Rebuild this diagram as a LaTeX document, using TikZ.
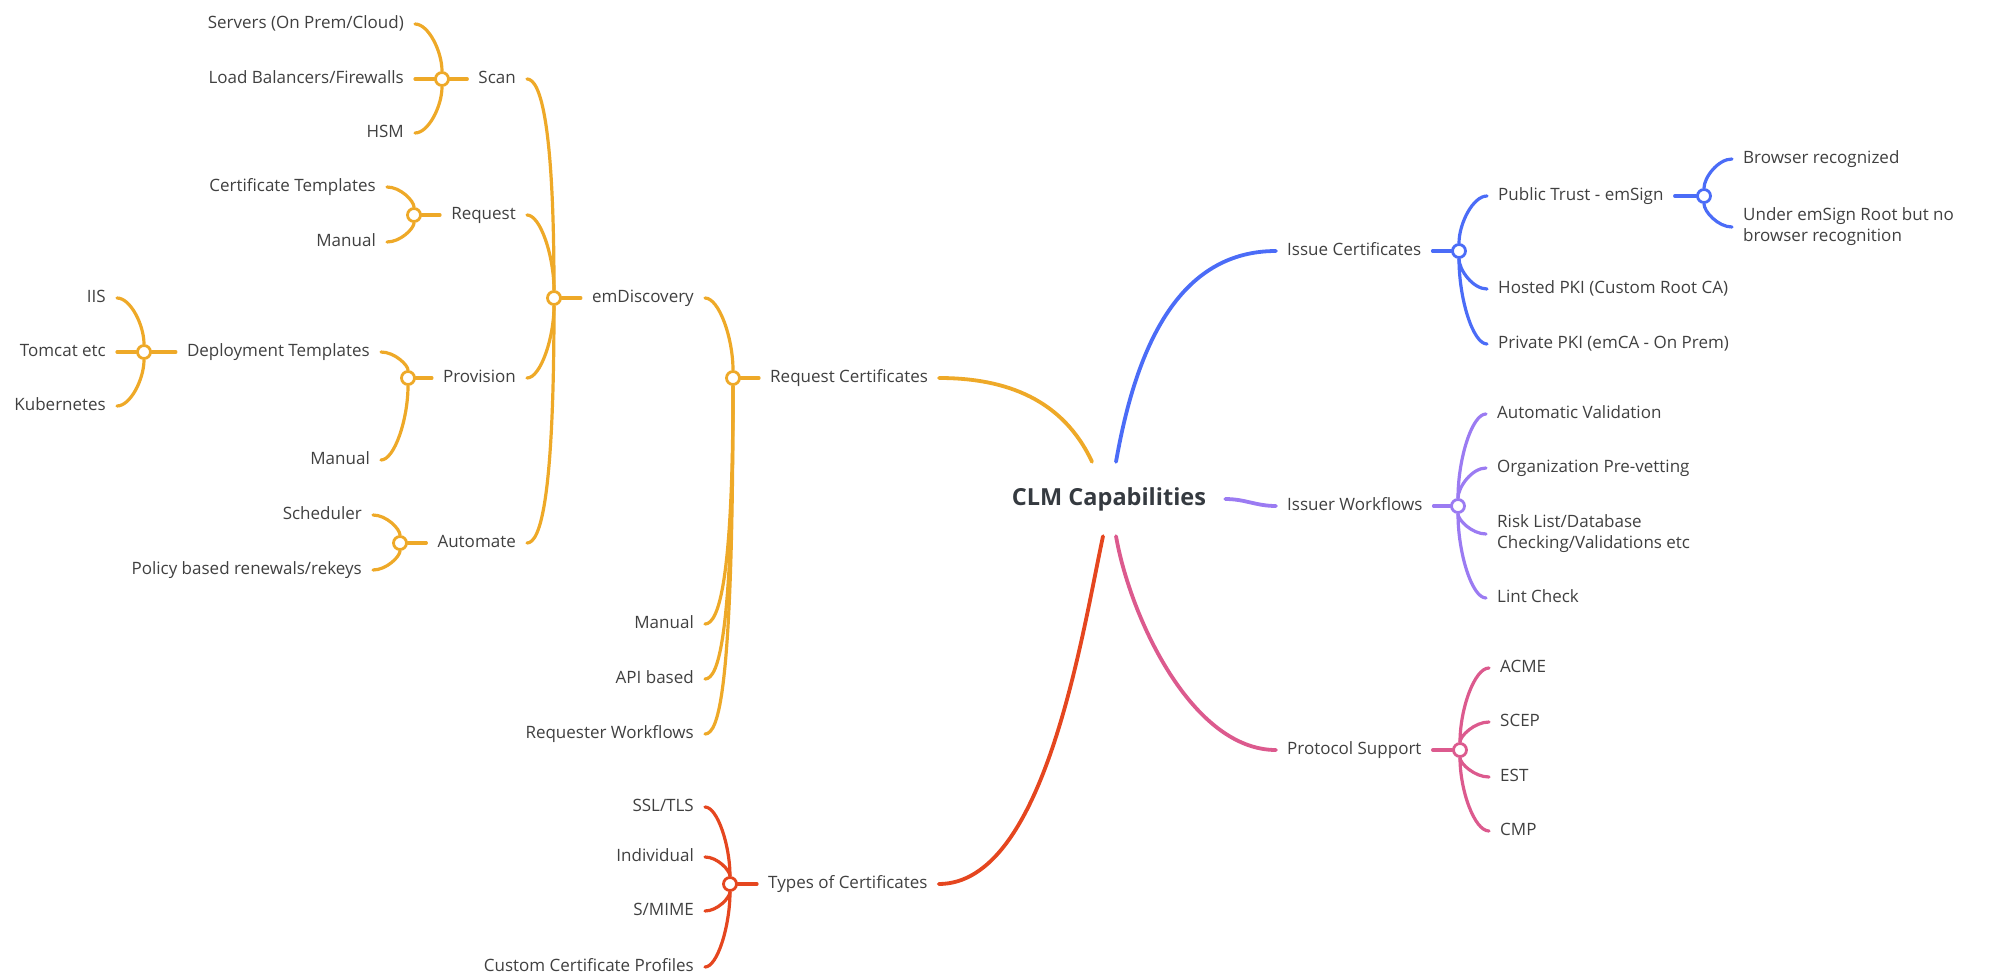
\documentclass[tikz,border=0pt]{standalone}
\usepackage{fontspec}
\setmainfont{Open Sans}
\usetikzlibrary{calc}
\definecolor{clmorange}{HTML}{EEA928}
\definecolor{clmblue}{HTML}{4B6CF7}
\definecolor{clmpurple}{HTML}{9B7BF2}
\definecolor{clmpink}{HTML}{DC5A8E}
\definecolor{clmred}{HTML}{E5461F}
\definecolor{clmtext}{HTML}{404040}
\definecolor{clmtitle}{HTML}{353A40}
\tikzstyle{leaf} = [font=\fontsize{17}{21}\selectfont, text=clmtext, inner xsep=11pt, inner ysep=1pt, text height=13pt, text depth=4.5pt]
\tikzstyle{lleaf} = [leaf, anchor=east]
\tikzstyle{rleaf} = [leaf, anchor=west]
\tikzstyle{twoline} = [align=left, text height={}, text depth={}]
\tikzstyle{root} = [font=\bfseries\fontsize{23.5}{28}\selectfont, text=clmtitle, inner xsep=19pt, inner ysep=26pt, text height=17pt, text depth=5pt]
\tikzstyle{hub} = [circle, draw, fill=white, line width=2.8pt, minimum size=13pt, inner sep=0pt]
\tikzstyle{twig} = [line width=3.2pt, line cap=round]
\tikzstyle{bough} = [line width=3.8pt, line cap=round]
\tikzstyle{limb} = [to path={let \p1=(\tikztostart), \p2=(\tikztotarget), \n1={max(-45,min(45,0.5*(\y2-\y1)))} in .. controls (\x1,{\y2-\n1}) and ({0.5*(\x1+\x2)},\y2) .. (\tikztotarget) \tikztonodes}]

\begin{document}
\begin{tikzpicture}[x=1pt, y=1pt]
\useasboundingbox (0,0) rectangle (1998,-980);

\node (root) [root] at (1109,-499) {CLM Capabilities};

\node (servers) [lleaf] at (415,-24) {Servers (On Prem/Cloud)};
\node (lb) [lleaf] at (415,-79) {Load Balancers/Firewalls};
\node (hsm) [lleaf] at (415,-133) {HSM};
\node (scanJ) [hub, draw=clmorange] at (442,-79) {};
\node (scan) [lleaf] at (527,-79) {Scan};
\node (certT) [lleaf] at (387,-187) {Certificate Templates};
\node (manR) [lleaf] at (387,-242) {Manual};
\node (reqJ) [hub, draw=clmorange] at (414,-215) {};
\node (request) [lleaf] at (527,-215) {Request};
\node (iis) [lleaf] at (117,-298) {IIS};
\node (tomcat) [lleaf] at (117,-352) {Tomcat etc};
\node (kube) [lleaf] at (117,-406) {Kubernetes};
\node (depJ) [hub, draw=clmorange] at (144,-352) {};
\node (deploy) [lleaf] at (381,-352) {Deployment Templates};
\node (manP) [lleaf] at (381,-460) {Manual};
\node (provJ) [hub, draw=clmorange] at (408,-378) {};
\node (prov) [lleaf] at (527,-378) {Provision};
\node (sched) [lleaf] at (373,-515) {Scheduler};
\node (policy) [lleaf] at (373,-570) {Policy based renewals/rekeys};
\node (autoJ) [hub, draw=clmorange] at (400,-543) {};
\node (auto) [lleaf] at (527,-543) {Automate};
\node (discJ) [hub, draw=clmorange] at (554,-298) {};
\node (disc) [lleaf] at (705,-298) {emDiscovery};
\node (manM) [lleaf] at (705,-624) {Manual};
\node (api) [lleaf] at (705,-679) {API based};
\node (reqwf) [lleaf] at (705,-734) {Requester Workflows};
\node (rcJ) [hub, draw=clmorange] at (733,-378) {};
\node (rc) [rleaf] at (759,-378) {Request Certificates};

\node (ssl) [lleaf] at (705,-807) {SSL/TLS};
\node (indiv) [lleaf] at (705,-857) {Individual};
\node (smime) [lleaf] at (705,-911) {S/MIME};
\node (custom) [lleaf] at (705,-967) {Custom Certificate Profiles};
\node (typesJ) [hub, draw=clmred] at (730,-884) {};
\node (types) [rleaf] at (757,-884) {Types of Certificates};

\node (issue) [rleaf] at (1276,-251) {Issue Certificates};
\node (issueJ) [hub, draw=clmblue] at (1459,-251) {};
\node (pub) [rleaf] at (1487,-196) {Public Trust - emSign};
\node (pubJ) [hub, draw=clmblue] at (1704,-196) {};
\node (browser) [rleaf] at (1732,-159) {Browser recognized};
\node (under) [rleaf, twoline] at (1732,-227) {Under emSign Root but no\\browser recognition};
\node (hosted) [rleaf] at (1487,-289) {Hosted PKI (Custom Root CA)};
\node (private) [rleaf] at (1487,-344) {Private PKI (emCA - On Prem)};

\node (iw) [rleaf] at (1276,-506) {Issuer Workflows};
\node (iwJ) [hub, draw=clmpurple] at (1458,-506) {};
\node (autoval) [rleaf] at (1486,-414) {Automatic Validation};
\node (orgpre) [rleaf] at (1486,-468) {Organization Pre-vetting};
\node (risk) [rleaf, twoline] at (1486,-534) {Risk List/Database\\Checking/Validations etc};
\node (lint) [rleaf] at (1486,-598) {Lint Check};

\node (proto) [rleaf] at (1276,-750) {Protocol Support};
\node (protoJ) [hub, draw=clmpink] at (1460,-750) {};
\node (acme) [rleaf] at (1489,-668) {ACME};
\node (scep) [rleaf] at (1489,-722) {SCEP};
\node (est) [rleaf] at (1489,-777) {EST};
\node (cmp) [rleaf] at (1489,-831) {CMP};

\draw [bough, clmorange] ([xshift=-17pt]root.north) to[out=115,in=0] (rc.east);
\draw [bough, clmblue] ([xshift=7pt]root.north) to[out=80,in=180] (issue.west);
\draw [bough, clmpurple] (root.east) to[out=0,in=180] (iw.west);
\draw [bough, clmpink] ([xshift=7pt]root.south) to[out=-80,in=180,looseness=0.8] (proto.west);
\draw [bough, clmred] ([xshift=-6pt]root.south) to[out=-102,in=0,looseness=0.7] (types.east);

\draw [twig, clmorange] (rc.west) -- (rcJ);
\draw [twig, clmorange] (rcJ) to[limb] (disc.east);
\draw [twig, clmorange] (rcJ) to[limb] (manM.east);
\draw [twig, clmorange] (rcJ) to[limb] (api.east);
\draw [twig, clmorange] (rcJ) to[limb] (reqwf.east);
\draw [twig, clmorange] (disc.west) -- (discJ);
\draw [twig, clmorange] (discJ) to[limb] (scan.east);
\draw [twig, clmorange] (discJ) to[limb] (request.east);
\draw [twig, clmorange] (discJ) to[limb] (prov.east);
\draw [twig, clmorange] (discJ) to[limb] (auto.east);
\draw [twig, clmorange] (scan.west) -- (scanJ);
\draw [twig, clmorange] (scanJ) to[limb] (servers.east);
\draw [twig, clmorange] (scanJ) -- (lb.east);
\draw [twig, clmorange] (scanJ) to[limb] (hsm.east);
\draw [twig, clmorange] (request.west) -- (reqJ);
\draw [twig, clmorange] (reqJ) to[limb] (certT.east);
\draw [twig, clmorange] (reqJ) to[limb] (manR.east);
\draw [twig, clmorange] (prov.west) -- (provJ);
\draw [twig, clmorange] (provJ) to[limb] (deploy.east);
\draw [twig, clmorange] (provJ) to[limb] (manP.east);
\draw [twig, clmorange] (deploy.west) -- (depJ);
\draw [twig, clmorange] (depJ) to[limb] (iis.east);
\draw [twig, clmorange] (depJ) -- (tomcat.east);
\draw [twig, clmorange] (depJ) to[limb] (kube.east);
\draw [twig, clmorange] (auto.west) -- (autoJ);
\draw [twig, clmorange] (autoJ) to[limb] (sched.east);
\draw [twig, clmorange] (autoJ) to[limb] (policy.east);

\draw [twig, clmred] (types.west) -- (typesJ);
\draw [twig, clmred] (typesJ) to[limb] (ssl.east);
\draw [twig, clmred] (typesJ) to[limb] (indiv.east);
\draw [twig, clmred] (typesJ) to[limb] (smime.east);
\draw [twig, clmred] (typesJ) to[limb] (custom.east);

\draw [twig, clmblue] (issue.east) -- (issueJ);
\draw [twig, clmblue] (issueJ) to[limb] (pub.west);
\draw [twig, clmblue] (issueJ) to[limb] (hosted.west);
\draw [twig, clmblue] (issueJ) to[limb] (private.west);
\draw [twig, clmblue] (pub.east) -- (pubJ);
\draw [twig, clmblue] (pubJ) to[limb] (browser.west);
\draw [twig, clmblue] (pubJ) to[limb] (under.west);

\draw [twig, clmpurple] (iw.east) -- (iwJ);
\draw [twig, clmpurple] (iwJ) to[limb] (autoval.west);
\draw [twig, clmpurple] (iwJ) to[limb] (orgpre.west);
\draw [twig, clmpurple] (iwJ) to[limb] (risk.west);
\draw [twig, clmpurple] (iwJ) to[limb] (lint.west);

\draw [twig, clmpink] (proto.east) -- (protoJ);
\draw [twig, clmpink] (protoJ) to[limb] (acme.west);
\draw [twig, clmpink] (protoJ) to[limb] (scep.west);
\draw [twig, clmpink] (protoJ) to[limb] (est.west);
\draw [twig, clmpink] (protoJ) to[limb] (cmp.west);

\end{tikzpicture}
\end{document}
